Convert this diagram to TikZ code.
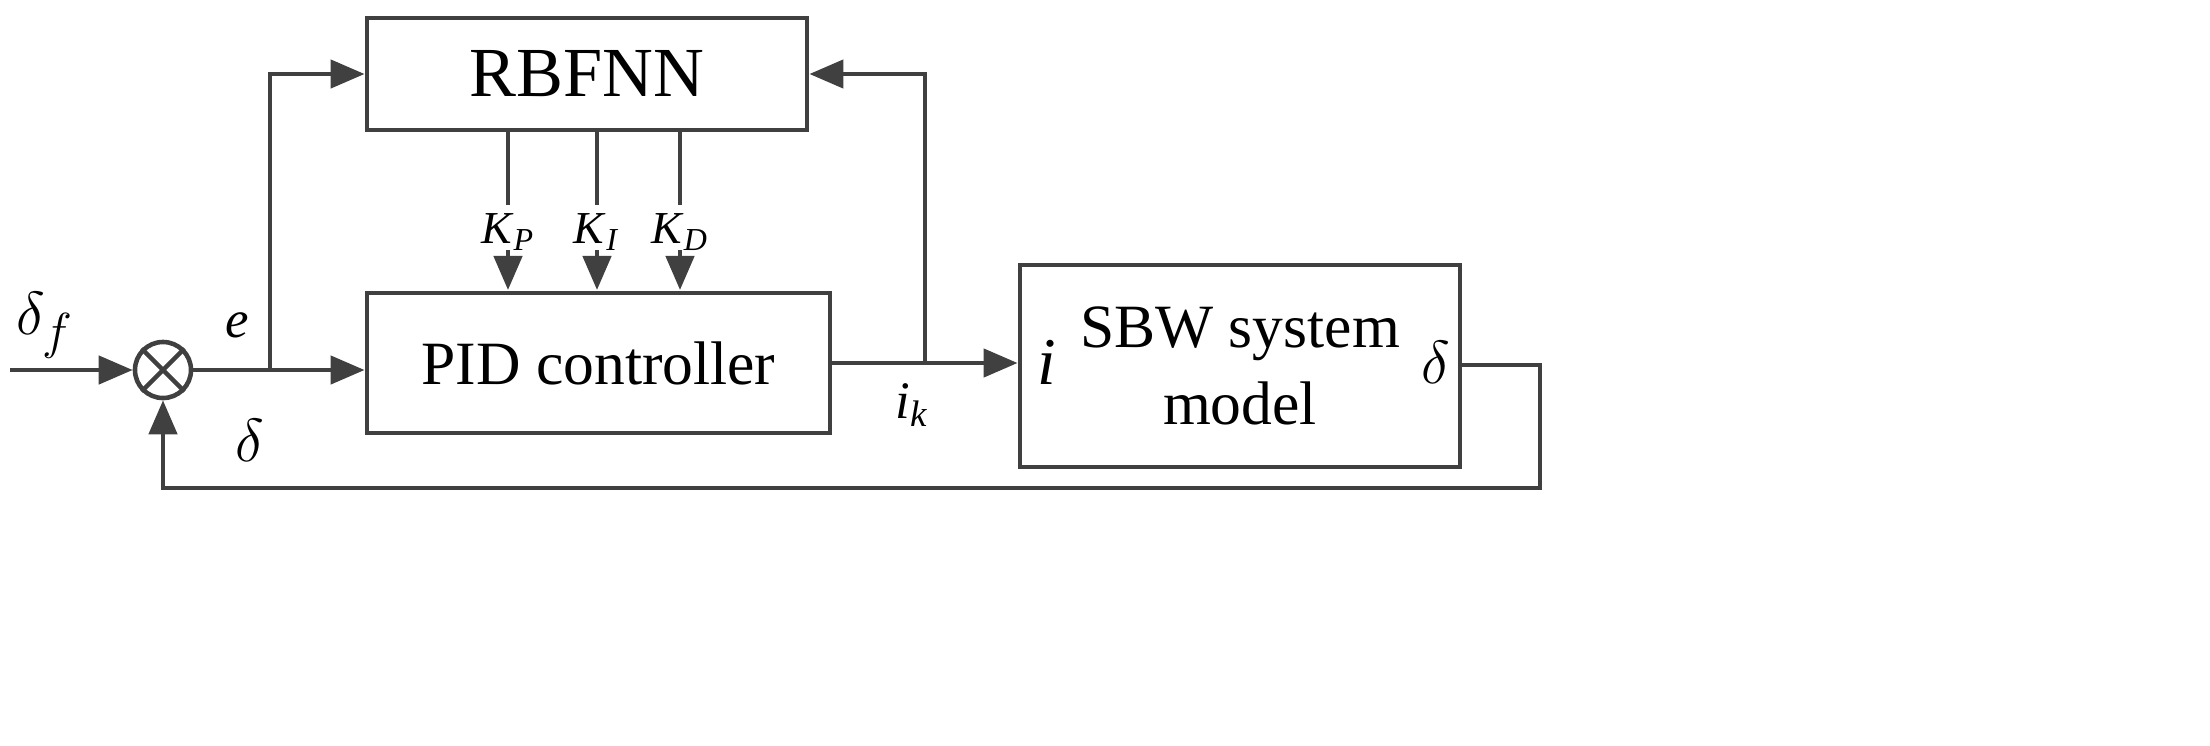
\documentclass[tikz,border=0pt]{standalone}
\usepackage{fontspec}
\setmainfont{Liberation Serif}
\usetikzlibrary{arrows.meta}
\begin{document}
\begin{tikzpicture}[x=0.01cm,y=-0.01cm,
  ln/.style={line width=1.3pt,draw=black!75},
  arr/.style={ln,-{Triangle[length=0.34cm,width=0.28cm]}},
  box/.style={ln,draw=black!75,rectangle,inner sep=0pt},
  txt/.style={font=\fontsize{17.5}{22}\selectfont},
  lbl/.style={font=\fontsize{15}{18}\selectfont,inner sep=1pt},
  big/.style={font=\fontsize{19}{22}\selectfont,inner sep=1pt},
  kl/.style={font=\fontsize{13}{16}\selectfont,inner sep=1pt}]
\useasboundingbox (0,0) rectangle (2210,745);
\node[box,minimum width=4.4cm,minimum height=1.12cm,font=\fontsize{20}{24}\selectfont] (rbf) at (587,74) {RBFNN};
\node[box,minimum width=4.63cm,minimum height=1.4cm,txt] (pid) at (598.5,363) {PID controller};
\node[box,minimum width=4.4cm,minimum height=2.02cm,txt,align=center] (sbw) at (1240,366) {SBW system\\model};
\node[big] at (1047,362) {\textit{i}};
\node[big] at (1436,362) {$\delta$};
\node[ln,circle,minimum size=0.56cm,inner sep=0pt] (sum) at (163,370) {};
\draw[ln] (sum.north west) -- (sum.south east) (sum.north east) -- (sum.south west);
\coordinate (in) at (10,370);
\draw[arr] (in) -- (sum.west);
\node[big] at (45,325) {$\delta_f$};
\coordinate (b1) at (270,370);
\draw[arr] (sum.east) -- (pid.west |- sum.east);
\node[lbl] at (237,325) {\textit{e}};
\draw[arr] (b1) |- (rbf.west);
\coordinate (b2) at (925,363);
\draw[arr] (pid.east |- b2) -- (sbw.west |- b2);
\draw[arr] (b2) |- (rbf.east);
\node[lbl] at (912,405) {\textit{i}\textsubscript{\textit{k}}};
\coordinate (c1) at (1540,365);
\coordinate (c2) at (1540,488);
\draw[arr] (sbw.east |- c1) -- (c1) -- (c2) -| (sum.south);
\node[big] at (250,440) {$\delta$};
\foreach \x/\n/\s in {508/kp/P,597/ki/I,680/kd/D}{
  \node[kl,minimum height=0.5cm] (\n) at (\x,232) {\textit{K}\textsubscript{\textit{\s}}};
  \draw[ln] (\x,130) -- (\x,205);
  \draw[arr] (\x,250) -- (\x,290);
}
\end{tikzpicture}
\end{document}
